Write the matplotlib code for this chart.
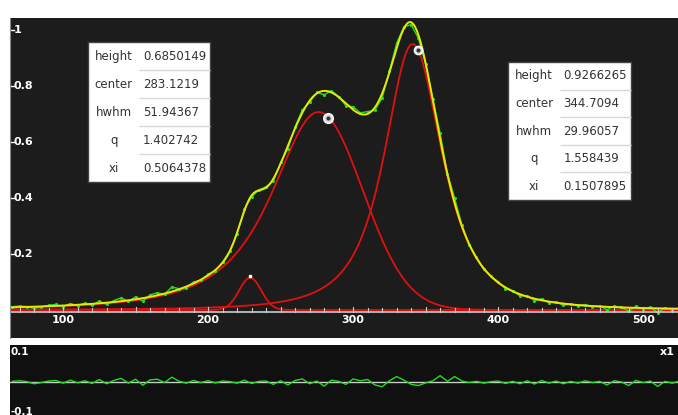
import numpy as np
import matplotlib.pyplot as plt
from matplotlib.patches import Rectangle

# component parameters (left / right half widths and side shapes)
peak_heights = [0.115, 0.707, 0.95]
peak_centers = [229.0, 276.0, 341.0]
peak_widths_left = [9.0, 38.0, 23.0]
peak_widths_right = [9.0, 36.0, 24.0]
shapes_left = ["gauss", "pearson", "pearson"]
shapes_right = ["gauss", "gauss", "pearson"]

# residual (data - fit) sampled every 5 units from x=65
res_x0, res_dx = 65, 5
residuals = [0.002, 0.004, 0.001, -0.006, -0.002, 0.003, 0.005, -0.004, 0.006, -0.003,
             0.004, -0.005, 0.008, -0.006, 0.005, 0.012, -0.004, 0.009, -0.011, 0.007,
             0.009, -0.002, 0.016, 0.002, -0.004, 0.005, -0.002, 0.004, -0.003, 0.003,
             0.001, -0.004, 0.006, -0.005, 0.002, 0.003, -0.008, 0.004, -0.010, 0.005,
             0.010, -0.006, 0.003, -0.014, 0.006, 0.002, -0.008, 0.010, 0.004, 0.008,
             -0.010, -0.016, 0.004, 0.018, 0.006, -0.008, -0.012, -0.003, 0.004, 0.021,
             0.002, 0.018, 0.003, -0.002, 0.002, -0.004, 0.001, 0.003, -0.005, 0.002,
             -0.006, 0.004, -0.007, 0.005, -0.004, 0.003, -0.006, 0.002, -0.004, 0.004,
             -0.002, 0.002, -0.010, 0.004, 0.000, -0.012, 0.005, -0.002, 0.003, -0.015,
             0.002, -0.004, 0.003]

left_table = [("height", "0.6850149"), ("center", "283.1219"), ("hwhm", "51.94367"),
              ("q", "1.402742"), ("xi", "0.5064378")]
right_table = [("height", "0.9266265"), ("center", "344.7094"), ("hwhm", "29.96057"),
               ("q", "1.558439"), ("xi", "0.1507895")]

XMIN, XMAX = 63.4, 524.0


def half(x, h, c, w, kind):
    if kind == "gauss":
        return h * 2.0 ** (-((x - c) / w) ** 2)
    m = 1.5
    return h / (1 + ((x - c) / w) ** 2 * (2 ** (1 / m) - 1)) ** m


def component(x, h, c, wl, wr, sl, sr):
    return np.where(x < c, half(x, h, c, wl, sl), half(x, h, c, wr, sr))


def total(xx):
    return [component(xx, *p) for p in zip(peak_heights, peak_centers, peak_widths_left,
                                            peak_widths_right, shapes_left, shapes_right)]


x = np.linspace(XMIN, XMAX, 800)
comps = total(x)
fit = np.sum(comps, axis=0)

rx = res_x0 + res_dx * np.arange(len(residuals))
data = np.sum(total(rx), axis=0) + np.array(residuals)

fig = plt.figure(figsize=(6.78, 4.15), dpi=100)
W, H = 678, 415
ax = fig.add_axes([10 / W, 1 - 338 / H, 668 / W, 320 / H])
axr = fig.add_axes([10 / W, 0, 668 / W, 70 / H])

ax.set_facecolor("#1c1c1c")
ax.set_xlim(XMIN, XMAX)
ax.set_ylim(-0.1, 1.043)
for s in ax.spines.values():
    s.set_visible(False)
ax.spines["left"].set_visible(True)
ax.spines["left"].set_color("#888888")
ax.set_xticks([])
ax.set_yticks([])

for comp in comps:
    ax.plot(x, comp, color="#e01010", lw=1.3)
ax.plot(rx, data, color="#22dd22", lw=1.0, marker=".", ms=2.5)
ax.plot(x, fit, color="#e8e800", lw=1.4)

# axis line and ticks
ax.axhline(-0.007, color="#cccccc", lw=1.2)
for t in np.arange(70, 521, 10):
    ax.plot([t, t], [-0.007, 0.008 if t % 50 else 0.012], color="#cccccc", lw=0.8)
for t in range(100, 501, 100):
    ax.text(t, -0.035, str(t), color="white", fontsize=8, fontweight="bold",
            ha="center", va="center")
for v in [0.2, 0.4, 0.6, 0.8, 1.0]:
    ax.plot([XMIN, XMIN + 3], [v, v], color="white", lw=1)
    ax.text(XMIN + 2.5, v, f"{v:g}", color="white", fontsize=8, fontweight="bold",
            ha="left", va="center")

# marker dots on peak apexes
for c, h, sz in [(283, 0.685, 7), (344.7, 0.927, 6)]:
    ax.plot(c, h, "o", ms=sz, mfc="#dddddd", mec="white")
    ax.plot(c, h, "o", ms=2, color="#333333")
ax.plot(229, 0.12, "s", ms=2, color="white")


def draw_table(rows, x0, y0, w, h):
    ax.add_patch(Rectangle((x0, y0), w, h, transform=ax.transAxes, facecolor="white",
                           edgecolor="#444444", lw=1, zorder=4))
    tb = ax.table(cellText=[list(r) for r in rows], bbox=[x0, y0, w, h],
                  colWidths=[0.42, 0.58], cellLoc="center")
    tb.set_zorder(5)
    tb.auto_set_font_size(False)
    tb.set_fontsize(8.5)
    for (r, c), cell in tb.get_celld().items():
        cell.set_facecolor("none")
        cell.set_edgecolor("#d8d8d8")
        cell.visible_edges = "B" if c == 1 and r < len(rows) - 1 else ""
        cell.get_text().set_color("#333333")
        if c == 1:
            cell.get_text().set_ha("left")
            cell.PAD = 0.05
    return tb


draw_table(left_table, 0.117, 0.4875, 0.183, 0.4375)
draw_table(right_table, 0.746, 0.431, 0.183, 0.4315)

# residual panel
axr.set_facecolor("#101010")
axr.set_xlim(XMIN, XMAX)
axr.set_ylim(-0.11, 0.123)
axr.set_xticks([])
axr.set_yticks([])
for s in axr.spines.values():
    s.set_visible(False)
axr.axhline(0, color="#cccccc", lw=1)
axr.plot(rx, residuals, color="#22dd22", lw=1.0)
for v, lab in [(0.1, "0.1"), (-0.1, "-0.1")]:
    axr.text(XMIN + 0.5, v, lab, color="white", fontsize=7.5, fontweight="bold",
             ha="left", va="center")
axr.text(XMAX - 2, 0.1, "x1", color="white", fontsize=8, fontweight="bold",
         ha="right", va="center")

fig.savefig("out.png", dpi=100, facecolor="white")
